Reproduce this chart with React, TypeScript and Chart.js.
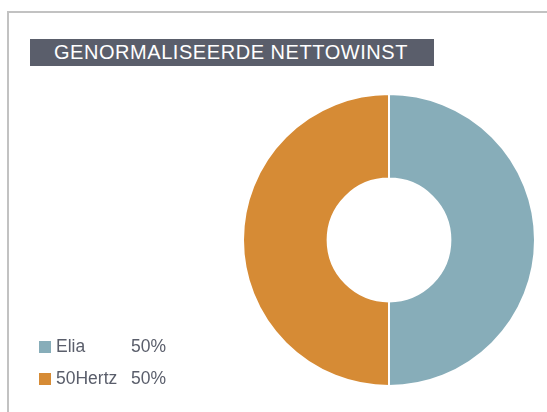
import React, { useEffect, useRef } from "react";
import { Chart, registerables } from "chart.js";

Chart.register(...registerables);

const title = "GENORMALISEERDE NETTOWINST";
const labels = ["Elia", "50Hertz"];
const values = [50, 50];
const valueLabels = ["50%", "50%"];
const colors = ["#87adb9", "#d68b35"];

export default function App() {
  const ref = useRef<HTMLCanvasElement>(null);

  useEffect(() => {
    if (!ref.current) return;
    const chart = new Chart(ref.current, {
      type: "doughnut",
      data: {
        labels,
        datasets: [
          {
            data: values,
            backgroundColor: colors,
            borderColor: "#ffffff",
            borderWidth: 2,
          },
        ],
      },
      options: {
        responsive: false,
        animation: false,
        devicePixelRatio: 1,
        radius: 146,
        cutout: 66,
        layout: { padding: { left: 231, top: 68, right: 0, bottom: 0 } },
        plugins: {
          legend: { display: false },
          tooltip: { enabled: false },
        },
      },
    });
    return () => chart.destroy();
  }, []);

  const font = "'Liberation Sans', Arial, Helvetica, sans-serif";

  return (
    <div
      style={{
        position: "fixed",
        left: 0,
        top: 0,
        width: 547,
        height: 412,
        overflow: "hidden",
        background: "#ffffff",
        fontFamily: font,
      }}
    >
      <div
        style={{
          position: "absolute",
          left: 7,
          top: 11,
          width: 700,
          height: 600,
          borderLeft: "2px solid #c2c2c2",
          borderTop: "2px solid #c2c2c2",
        }}
      />
      <canvas
        ref={ref}
        width={547}
        height={412}
        style={{ position: "absolute", left: 0, top: 0, width: 547, height: 412 }}
      />
      <div
        style={{
          position: "absolute",
          left: 30,
          top: 39,
          width: 404,
          height: 27,
          background: "#5a5e6b",
          color: "#ffffff",
          fontSize: 20,
          lineHeight: "27px",
          letterSpacing: "0.55px",
          paddingLeft: 24,
          boxSizing: "border-box",
          whiteSpace: "nowrap",
        }}
      >
        {title}
      </div>
      {labels.map((lab, i) => (
        <React.Fragment key={lab}>
          <div
            style={{
              position: "absolute",
              left: 39,
              top: 341 + i * 32,
              width: 12,
              height: 12,
              background: colors[i],
            }}
          />
          <div
            style={{
              position: "absolute",
              left: 56,
              top: 336 + i * 32,
              fontSize: 17.5,
              lineHeight: "20px",
              color: "#5a5e6b",
              whiteSpace: "nowrap",
            }}
          >
            {lab}
          </div>
          <div
            style={{
              position: "absolute",
              left: 131,
              top: 336 + i * 32,
              fontSize: 17.5,
              lineHeight: "20px",
              color: "#5a5e6b",
              whiteSpace: "nowrap",
            }}
          >
            {valueLabels[i]}
          </div>
        </React.Fragment>
      ))}
    </div>
  );
}
